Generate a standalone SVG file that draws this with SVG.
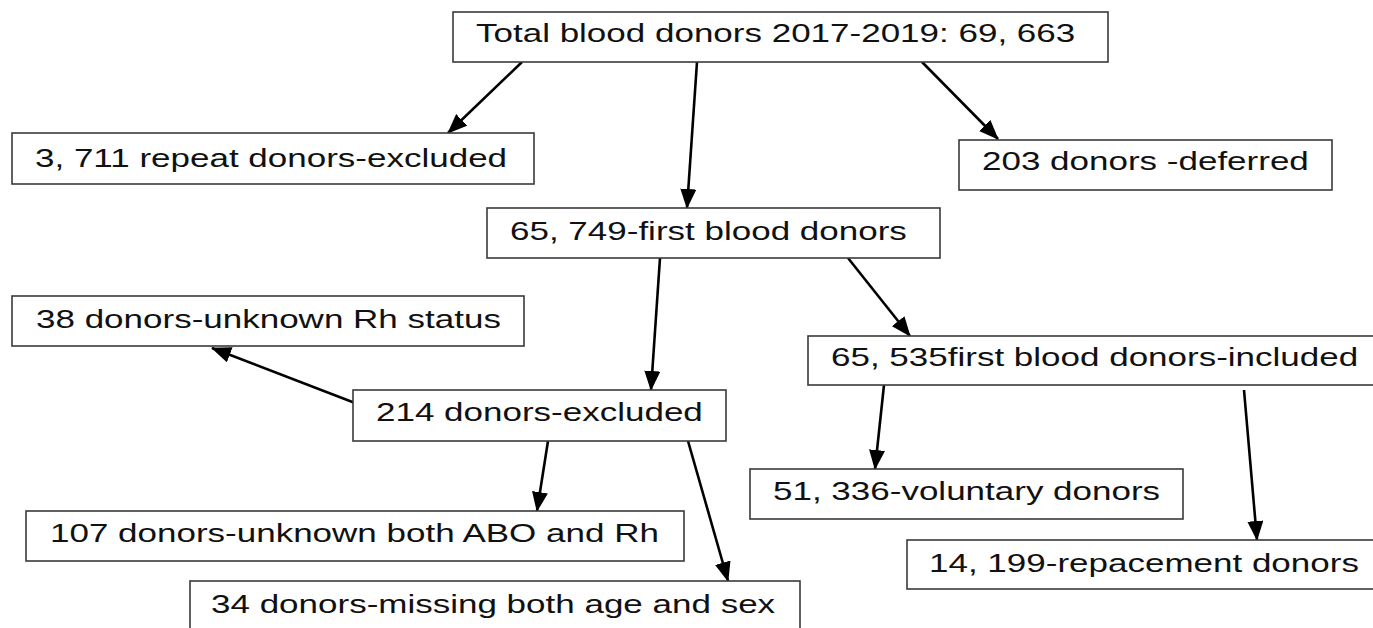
<svg xmlns="http://www.w3.org/2000/svg" width="1373" height="628" viewBox="0 0 1373 628">
<style>
.box{fill:#fff;stroke:#3a3a3a;stroke-width:1.6}
.t{font-family:"Liberation Sans",Arial,sans-serif;font-size:25px;fill:#111;text-anchor:start}
.c{stroke:#000;stroke-width:2.6;fill:none;marker-end:url(#ah)}
</style>
<defs>
<marker id="ah" viewBox="0 0 20 16" refX="19" refY="8" markerWidth="20" markerHeight="16" markerUnits="userSpaceOnUse" orient="auto">
<path d="M0,0 L20,8 L0,16 Z" fill="#000"/>
</marker>
</defs>
<rect width="1373" height="628" fill="#fff"/>
<g id="connectors">
<line class="c" x1="522" y1="62" x2="448" y2="133"/>
<line class="c" x1="697" y1="62" x2="687" y2="208"/>
<line class="c" x1="922" y1="62" x2="998" y2="139"/>
<line class="c" x1="660" y1="258" x2="651" y2="390"/>
<line class="c" x1="848" y1="258" x2="910" y2="336"/>
<line class="c" x1="355" y1="403" x2="212" y2="348"/>
<line class="c" x1="884" y1="385" x2="875" y2="469"/>
<line class="c" x1="1244" y1="390" x2="1257" y2="540"/>
<line class="c" x1="548" y1="441" x2="537" y2="511"/>
<line class="c" x1="688" y1="441" x2="728" y2="581"/>
</g>
<g id="n1"><rect class="box" x="453" y="12" width="655" height="50"/><text class="t" transform="translate(476,42) scale(1.4,1)">Total blood donors 2017-2019: 69, 663</text></g>
<g id="n2"><rect class="box" x="12" y="133" width="522" height="51"/><text class="t" transform="translate(35,167) scale(1.4,1)">3, 711 repeat donors-excluded</text></g>
<g id="n3"><rect class="box" x="959" y="140" width="373" height="50"/><text class="t" transform="translate(982,170) scale(1.4,1)">203 donors -deferred</text></g>
<g id="n4"><rect class="box" x="487" y="208" width="453" height="50"/><text class="t" transform="translate(510,240) scale(1.4,1)">65, 749-first blood donors</text></g>
<g id="n5"><rect class="box" x="12" y="296" width="512" height="50"/><text class="t" transform="translate(36,328) scale(1.4,1)">38 donors-unknown Rh status</text></g>
<g id="n6"><rect class="box" x="808" y="336" width="580" height="49"/><text class="t" transform="translate(831,366) scale(1.4,1)">65, 535first blood donors-included</text></g>
<g id="n7"><rect class="box" x="353" y="390" width="373" height="51"/><text class="t" transform="translate(376,421) scale(1.4,1)">214 donors-excluded</text></g>
<g id="n8"><rect class="box" x="750" y="469" width="433" height="50"/><text class="t" transform="translate(773,500) scale(1.4,1)">51, 336-voluntary donors</text></g>
<g id="n9"><rect class="box" x="26" y="511" width="658" height="50"/><text class="t" transform="translate(50,542) scale(1.4,1)">107 donors-unknown both ABO and Rh</text></g>
<g id="n10"><rect class="box" x="907" y="540" width="480" height="49"/><text class="t" transform="translate(929,572) scale(1.4,1)">14, 199-repacement donors</text></g>
<g id="n11"><rect class="box" x="190" y="581" width="610" height="60"/><text class="t" transform="translate(211,613) scale(1.4,1)">34 donors-missing both age and sex</text></g>
</svg>
